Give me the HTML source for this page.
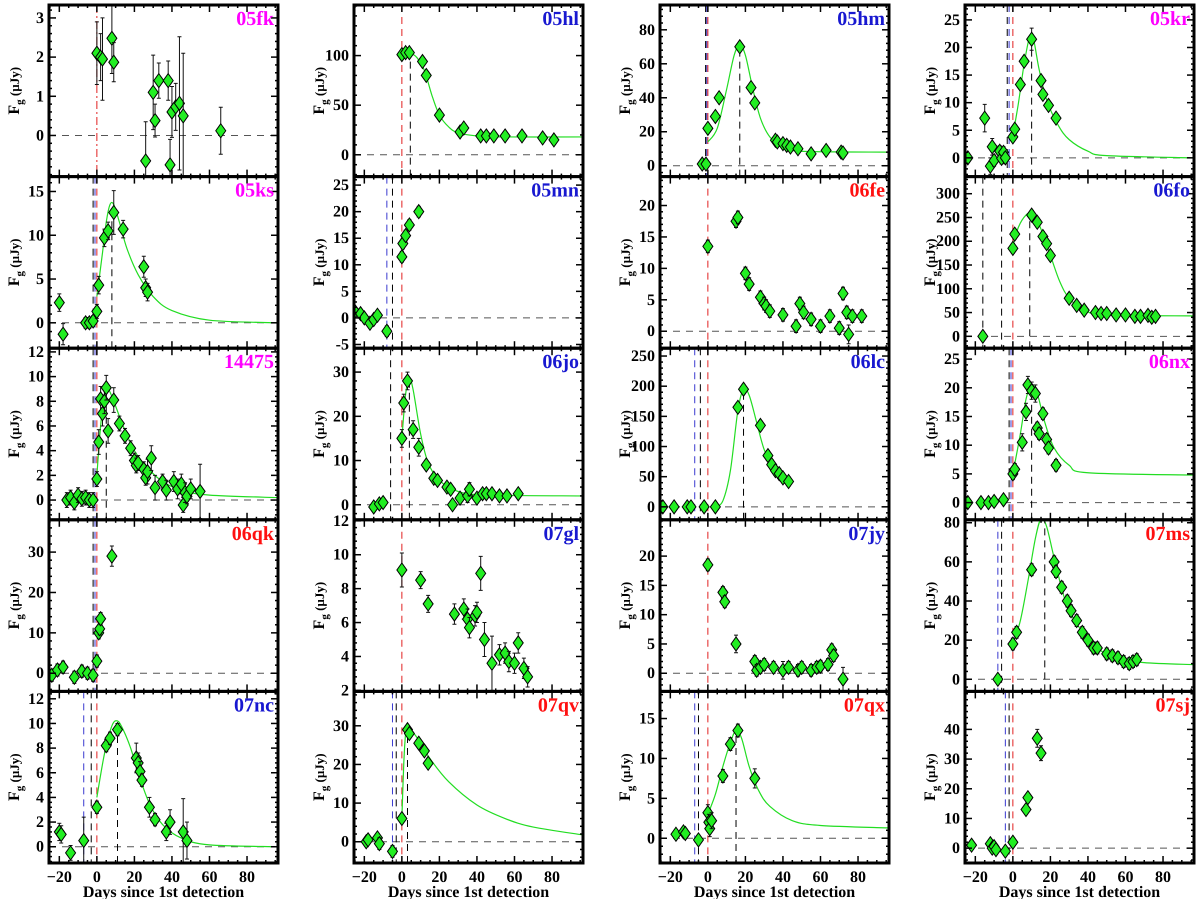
<!DOCTYPE html>
<html><head><meta charset="utf-8">
<style>
html,body{margin:0;padding:0;background:#fff;}
svg{display:block;font-family:"Liberation Serif",serif;font-weight:bold;text-rendering:geometricPrecision;}
</style></head>
<body>
<svg id="fig" width="1200" height="899" viewBox="0 0 1200 899" xmlns="http://www.w3.org/2000/svg"></svg>
<script>
// ---- data arrays (days since 1st detection, flux in microJy) ----
const xTicks=[-20,0,20,40,60,80];
const xTickLabels=["\u221220","0","20","40","60","80"];

const fk_days=[0,2,3,8,9,26,30,31,33,38,39,40,42,44,46,66];
const fk_flux=[2.1,2.0,1.95,2.48,1.87,-0.65,1.1,0.38,1.4,1.4,-0.75,0.6,0.73,0.82,0.5,0.12];
const fk_err=[0.8,0.6,1.05,0.9,0.5,1.0,0.95,0.42,0.45,0.5,0.65,0.65,0.6,1.7,1.6,0.6];

const hl_days=[0,2,4,11,13,20,31,33,42,45,49,55,64,75,81];
const hl_flux=[101,103,103,94,80,40,23,27,19,19,19,19,19,17,15];
const hl_err=[3,3,3,3,3,3,3,3,3,3,3,3,3,3,3];
const hl_cdays=[0,1,4,8,12,16,20,25,30,40,50,96];
const hl_cflux=[100,103,103,98,85,60,40,28,22,19,18,18];

const hm_days=[-3,-1,0,4,6,17,23,25,36,37,40,42,44,48,55,63,71,72];
const hm_flux=[1,1,22,29,40,70,46,37,15,14,13,12,11,10,7,9,8,7.5];
const hm_err=[2,2,2,2,2,2,2,2,2,2,2,2,2,2,2,2,2,2];
const hm_cdays=[0,5,10,14,17,20,24,28,33,40,50,96];
const hm_cflux=[14,22,45,65,71,65,45,28,17,11,8.5,8];

const kr_days=[-24,-15,-12,-11,-10,-7,-6,-5,-4,0,1,4,6,10,15,16,19,23];
const kr_flux=[0,7.2,-1.5,2,-0.5,1.2,-0.1,1,0,3.8,5.2,13.3,17.5,21.5,14,11.5,9.5,7.2];
const kr_err=[0.5,2.5,1.5,1.5,1,1,1,1,1,0.8,0.8,0.8,0.8,2,0.8,0.8,0.8,0.8];
const kr_cdays=[0,3,6,9,11,14,18,24,30,40,50,96];
const kr_cflux=[4,10,17,22,21.5,16,10.5,6,3.3,1.2,0.4,0];

const ks_days=[-20,-18,-6,-4,-2,0,1,4,6,9,14,25,26,27];
const ks_flux=[2.3,-1.3,0,0,0.2,1.3,4.3,9.7,10.5,12.6,10.7,6.4,4,3.5];
const ks_err=[1,1.2,0.6,0.6,0.6,0.8,1,1,1,2.5,1,1.2,1,1];
const ks_cdays=[0,3,5,7,9,12,16,22,30,40,60,96];
const ks_cflux=[3,8,11.5,13.5,13.5,11.5,8.5,5.5,3,1.4,0.3,0];

const mn_days=[-25,-22,-20,-17,-15,-13,-8,0,0.5,2,4,9];
const mn_flux=[1.2,0.8,0,-1,-0.3,0.5,-2.5,11.5,14,15.5,17.5,20];
const mn_err=[0.8,0.8,0.8,0.8,0.8,0.8,1,1,1,1,1,1];

const fe_days=[0,15,16,20,22,28,30,31,33,40,47,49,51,55,60,65,70,72,74,75,77,82];
const fe_flux=[13.5,17.5,18.1,9.2,7.5,5.4,4.4,4.0,3.2,2.6,0.8,4.4,3.0,1.9,0.8,2.4,0.5,6,3,-0.5,2.4,2.4];
const fe_err=[1,1,1,1,1,1,1,1,1,1,1,1,1,1,1,1,1,1,1,1.5,1,1];

const fo_days=[-16,0,1,10,13,16,18,20,30,34,38,44,47,50,55,60,65,68,72,74,76];
const fo_flux=[0,185,215,255,240,210,195,170,80,65,55,50,48,48,45,45,42,42,44,40,42];
const fo_err=[8,10,10,10,10,10,10,10,10,8,8,8,8,8,8,8,8,8,8,8,8];
const fo_cdays=[0,3,7,10,14,20,25,30,38,50,96];
const fo_cflux=[190,230,255,258,235,170,115,80,55,45,43];

const n14_days=[-16,-14,-12,-10,-8,-6,-4,-2,0,1,2,3,4,5,6,9,12,15,18,20,21,22,25,26,27,29,31,35,37,41,43,45,46,47,48,50,55];
const n14_flux=[0,0.2,-0.2,0.4,0.1,0.2,0,0,1.7,4.7,8.2,7.0,8,9.1,5.6,8.1,6.2,5.2,4.2,3.2,2.8,3.0,2.5,1.8,2.3,3.4,1.0,1.5,0.8,1.5,0.9,1.3,-0.4,0.6,0.3,0.9,0.7];
const n14_err=[0.6,0.6,0.6,0.6,0.6,0.6,0.6,0.6,0.6,1,1,1,1,1,1,1,0.6,0.6,0.6,0.6,0.6,0.6,0.6,0.6,1,1,1,0.6,0.8,0.8,0.8,0.8,0.6,0.8,0.6,0.8,2.2];
const n14_cdays=[0,2,4,6,9,14,20,27,35,45,60,96];
const n14_cflux=[2,6,8.5,9,8,6,4,2.6,1.5,0.8,0.4,0.2];

const jo_days=[-15,-12,-10,0,1,3,6,9,13,17,19,24,26,27,31,35,36,40,43,45,48,52,56,62];
const jo_flux=[-0.5,0.2,0.5,15,23,28,17,13,9,6,5.5,4,3.5,0,1.5,2,3.5,1.5,2.5,2.5,2.5,2,2,2.5];
const jo_err=[1,1,1,2,2,2,2,2,1,1,1,1,1,1,1,1.5,1.5,1,1,1,1,1,1,1];
const jo_cdays=[0,2,4,6,10,14,20,30,45,96];
const jo_cflux=[15,25,28.5,26,16,9.5,5.5,3,2.2,2];

const lc_days=[-24,-18,-11,-9,-2,4,16,19,28,32,34,36,38,40,43];
const lc_flux=[0,0,0,0,0,0,165,195,135,85,70,60,55,48,42];
const lc_err=[5,5,5,5,5,5,8,8,8,8,8,8,8,8,8];
const lc_cdays=[4,8,12,16,19,22,26,30,35,40,45];
const lc_cflux=[0,10,60,160,195,185,140,95,65,48,40];

const nx_days=[-24,-17,-13,-10,-5,0,1,5,7,8,10,12,13,14,16,18,19,23];
const nx_flux=[0,0,0,0.2,0.5,5,5.8,10.5,15.8,20.5,19.5,19,13,12,15.5,11,9.5,6.5];
const nx_err=[0.8,0.8,0.8,0.8,0.8,1,1,1.5,1.5,1.5,1.5,1.5,1,1,1,1,1,1];
const nx_cdays=[0,4,7,10,13,17,22,30,40,96];
const nx_cflux=[5,12,18,20.5,19,14,9.5,6.5,5.2,4.8];

const qk_days=[-24,-21,-18,-12,-8,-5,-2,0,1,1.5,2,8];
const qk_flux=[-0.5,0.8,1.5,-1,0.5,0,-0.5,3,10,11,13.5,29];
const qk_err=[1.5,1.5,1.5,1.5,1.5,1.5,1.5,1.5,1.5,1.5,1.5,2.5];

const gl_days=[0,10,14,28,33,35,36,39,40,42,44,48,52,55,57,60,62,65,67];
const gl_flux=[9.1,8.5,7.1,6.5,6.8,6.2,5.7,6.4,6.6,8.9,5,3.6,4.1,4.2,3.7,3.6,4.8,3.3,2.8];
const gl_err=[1,0.5,0.5,0.6,0.6,0.6,0.6,0.6,0.6,1,1,1.6,0.6,0.6,0.6,0.6,0.6,0.6,0.6];

const jy_days=[0,8,9,15,25,26,28,30,35,40,43,48,50,55,58,60,64,66,67,72];
const jy_flux=[18.5,13.8,12.2,5,2,0.5,1,1.5,1,0.5,1,0.5,1,0.5,1,1.2,1.5,4,3,-1];
const jy_err=[1,1,1,1.5,1,1,1,1,1,1.5,1,1,1,1,1,1,1,1,1,2];

const ms_days=[-8,0,2,10,22,23,26,29,31,34,37,40,43,45,50,53,56,59,62,64,66];
const ms_flux=[0,18,24,56,60,55,47,40,35,30,24,20,16,16,13,12,11,9,8,9,10];
const ms_err=[2,3,3,3,3,3,3,3,3,3,3,3,3,3,3,3,3,3,3,3,3];
const ms_cdays=[0,4,8,12,15,18,22,28,35,45,55,70,96];
const ms_cflux=[18,30,50,72,82,78,62,40,27,16,11,8.5,7.5];

const nc_days=[-20,-19,-14,-7,0,5,7,11,21,22,23,24,28,31,37,39,46,48];
const nc_flux=[1.2,1,-0.5,0.5,3.2,8.2,8.8,9.5,7.2,6.8,6.1,5.4,3.2,2.2,1.2,2,1.2,0.5];
const nc_err=[0.7,0.7,0.6,1.9,0.5,0.5,0.5,0.5,1.2,0.8,0.8,0.5,0.8,0.5,0.7,1,2.7,1.5];
const nc_cdays=[0,4,8,11,14,18,22,28,35,45,60,96];
const nc_cflux=[4,7.5,9.8,10.2,9.5,8,6,3.5,1.8,0.7,0.15,0];

const qv_days=[-19,-18,-13,-12,-5,0,3,4,9,12,14];
const qv_flux=[0,0.5,1,-0.5,-2.5,6,29,28,25.5,23.5,20.3];
const qv_err=[1,1,1,1.5,1.5,1,1,1,1,1,1];
const qv_cdays=[0,1,2,3,8,15,25,40,55,70,96];
const qv_cflux=[6,20,28,29.5,27,21.5,15.5,9.5,6,3.8,1.8];

const qx_days=[-17,-13,-12,-5,0,0.5,1,2,8,12,16,25];
const qx_flux=[0.5,0.8,0.6,-0.2,3.2,2,1.2,2.2,7.8,11.8,13.5,7.5];
const qx_err=[0.6,0.6,0.6,0.6,1,1,1,1,0.8,0.8,0.8,1.2];
const qx_cdays=[0,4,8,12,15,18,22,27,33,45,60,96];
const qx_cflux=[3,5.5,9,12,13.5,12.5,9,6,4,2.2,1.6,1.3];

const sj_days=[-22,-12,-11,-10,-9,-4,0,7,8,13,15];
const sj_flux=[1,1.5,0,0.5,-0.5,-1,2,13,17,37,32];
const sj_err=[1,1,1,1,1,1,1,1,1,3,2.5];

// ---- layout ----
const colLeft=[49,354,660,965], PW=229, TOP=5, PH=171.6;
const XMIN=-25.5, XMAX=96.5;
const MAG="#ff00ff", BLU="#1818d0", RED="#ff1010";

const panels=[
 {id:"05fk",color:MAG,col:0,row:0,y0:-1.05,y1:3.33,yt:[0,1,2,3],d:fk_days,f:fk_flux,e:fk_err,blue:[],black:[],peak:null,dashdot:true},
 {id:"05hl",color:BLU,col:1,row:0,y0:-22,y1:151,yt:[0,50,100],d:hl_days,f:hl_flux,e:hl_err,cd:hl_cdays,cf:hl_cflux,blue:[],black:[],peak:4.5},
 {id:"05hm",color:BLU,col:2,row:0,y0:-6.4,y1:94.6,yt:[0,20,40,60,80],d:hm_days,f:hm_flux,e:hm_err,cd:hm_cdays,cf:hm_cflux,blue:[-0.6],black:[-1.2],peak:17},
 {id:"05kr",color:MAG,col:3,row:0,y0:-3.4,y1:27.7,yt:[0,5,10,15,20,25],d:kr_days,f:kr_flux,e:kr_err,cd:kr_cdays,cf:kr_cflux,blue:[-2],black:[-3],peak:10},
 {id:"05ks",color:MAG,col:0,row:1,y0:-2.9,y1:16.7,yt:[0,5,10,15],d:ks_days,f:ks_flux,e:ks_err,cd:ks_cdays,cf:ks_cflux,blue:[-1],black:[-2],peak:8},
 {id:"05mn",color:BLU,col:1,row:1,y0:-5.7,y1:26.6,yt:[-5,0,5,10,15,20,25],d:mn_days,f:mn_flux,e:mn_err,blue:[-8],black:[-5],peak:null},
 {id:"06fe",color:RED,col:2,row:1,y0:-2.7,y1:24.6,yt:[0,5,10,15,20],d:fe_days,f:fe_flux,e:fe_err,blue:[],black:[],peak:null},
 {id:"06fo",color:BLU,col:3,row:1,y0:-25,y1:336,yt:[0,50,100,150,200,250,300],d:fo_days,f:fo_flux,e:fo_err,cd:fo_cdays,cf:fo_cflux,blue:[],black:[-16,-6],peak:9},
 {id:"14475",color:MAG,col:0,row:2,y0:-1.6,y1:12.3,yt:[0,2,4,6,8,10,12],d:n14_days,f:n14_flux,e:n14_err,cd:n14_cdays,cf:n14_cflux,blue:[-1],black:[-2],peak:5},
 {id:"06jo",color:BLU,col:1,row:2,y0:-3.4,y1:35.4,yt:[0,10,20,30],d:jo_days,f:jo_flux,e:jo_err,cd:jo_cdays,cf:jo_cflux,blue:[],black:[-6],peak:4},
 {id:"06lc",color:BLU,col:2,row:2,y0:-21.5,y1:263,yt:[0,50,100,150,200,250],d:lc_days,f:lc_flux,e:lc_err,cd:lc_cdays,cf:lc_cflux,blue:[-7],black:[-4],peak:19},
 {id:"06nx",color:MAG,col:3,row:2,y0:-3,y1:26.9,yt:[0,5,10,15,20,25],d:nx_days,f:nx_flux,e:nx_err,cd:nx_cdays,cf:nx_cflux,blue:[-1],black:[-2],peak:10},
 {id:"06qk",color:RED,col:0,row:3,y0:-4.5,y1:38,yt:[0,10,20,30],d:qk_days,f:qk_flux,e:qk_err,blue:[-1],black:[-2],peak:null},
 {id:"07gl",color:BLU,col:1,row:3,y0:1.94,y1:12.06,yt:[2,4,6,8,10,12],d:gl_days,f:gl_flux,e:gl_err,blue:[],black:[],peak:null,nozero:true},
 {id:"07jy",color:BLU,col:2,row:3,y0:-3.1,y1:26.2,yt:[0,5,10,15,20],d:jy_days,f:jy_flux,e:jy_err,blue:[],black:[],peak:null},
 {id:"07ms",color:RED,col:3,row:3,y0:-6.2,y1:81.5,yt:[0,20,40,60,80],d:ms_days,f:ms_flux,e:ms_err,cd:ms_cdays,cf:ms_cflux,blue:[-8],black:[-6],peak:17},
 {id:"07nc",color:BLU,col:0,row:4,y0:-1.32,y1:12.6,yt:[0,2,4,6,8,10,12],d:nc_days,f:nc_flux,e:nc_err,cd:nc_cdays,cf:nc_cflux,blue:[-7],black:[-3],peak:11},
 {id:"07qv",color:RED,col:1,row:4,y0:-5.5,y1:38.9,yt:[0,10,20,30],d:qv_days,f:qv_flux,e:qv_err,cd:qv_cdays,cf:qv_cflux,blue:[-5],black:[-3],peak:3},
 {id:"07qx",color:RED,col:2,row:4,y0:-3.1,y1:18.4,yt:[0,5,10,15],d:qx_days,f:qx_flux,e:qx_err,cd:qx_cdays,cf:qx_cflux,blue:[-7],black:[-5],peak:15},
 {id:"07sj",color:RED,col:3,row:4,y0:-5,y1:52.8,yt:[0,10,20,30,40],d:sj_days,f:sj_flux,e:sj_err,blue:[-4],black:[-2],peak:null}
];

const NS="http://www.w3.org/2000/svg";
const svg=document.getElementById("fig");
function mk(tag,attrs,parent){const el=document.createElementNS(NS,tag);for(const k in attrs)el.setAttribute(k,attrs[k]);(parent||svg).appendChild(el);return el;}

function catmull(pts){
  if(pts.length<2)return "";
  let d="M"+pts[0][0].toFixed(2)+","+pts[0][1].toFixed(2);
  for(let i=0;i<pts.length-1;i++){
    const p0=pts[i-1]||pts[i],p1=pts[i],p2=pts[i+1],p3=pts[i+2]||p2;
    const c1=[p1[0]+(p2[0]-p0[0])/6,p1[1]+(p2[1]-p0[1])/6];
    const c2=[p2[0]-(p3[0]-p1[0])/6,p2[1]-(p3[1]-p1[1])/6];
    d+=" C"+c1[0].toFixed(2)+","+c1[1].toFixed(2)+" "+c2[0].toFixed(2)+","+c2[1].toFixed(2)+" "+p2[0].toFixed(2)+","+p2[1].toFixed(2);
  }
  return d;
}

panels.forEach((p,idx)=>{
  const L=colLeft[p.col], T=TOP+PH*p.row, R=L+PW, B=T+PH;
  const sx=v=>L+(v-XMIN)/(XMAX-XMIN)*PW;
  const sy=v=>B-(v-p.y0)/(p.y1-p.y0)*PH;
  const g=mk("g",{});
  
  
  const clip=mk("clipPath",{id:"c"+idx},g);
  mk("rect",{x:L,y:T,width:PW,height:PH},clip);
  const inner=mk("g",{"clip-path":"url(#c"+idx+")"},g);

  if(!p.nozero){
    const z=mk("line",{x1:L,x2:R,y1:sy(0),y2:sy(0),stroke:"#555",
      "stroke-width":1,"stroke-dasharray":"7,6"},inner);
    
    
  }
  p.blue.forEach(v=>{const l=mk("line",{x1:sx(v),x2:sx(v),y1:T,y2:B,stroke:"#3a3ad0","stroke-width":1,"stroke-dasharray":"7,5"},inner);
    });
  p.black.forEach(v=>{const l=mk("line",{x1:sx(v),x2:sx(v),y1:T,y2:B,stroke:"#000","stroke-width":1,"stroke-dasharray":"7,5"},inner);
    });
  const rl=mk("line",{x1:sx(0),x2:sx(0),y1:T,y2:B,stroke:"#e02020","stroke-width":1,"stroke-dasharray":p.dashdot?"8,3,2,3":"7,5"},inner);
  
  

  if(p.cd){
    const pts=p.cd.map((d,i)=>[sx(d),sy(p.cf[i])]);
    const c=mk("path",{d:catmull(pts),fill:"none",stroke:"#22dd22","stroke-width":1.2},inner);
    
    
    if(p.peak!==null){
      let pk=Math.max(...p.cf);
      const pl=mk("line",{x1:sx(p.peak),x2:sx(p.peak),y1:B,y2:sy(pk),stroke:"#000","stroke-width":1,"stroke-dasharray":"7,5"},inner);
      
      
    }
  }
  p.d.forEach((d,i)=>{
    const x=sx(d),y=sy(p.f[i]),e=p.e[i];
    const eb=mk("line",{x1:x,x2:x,y1:sy(p.f[i]-e),y2:sy(p.f[i]+e),stroke:"#111","stroke-width":1},inner);
    
    
    [p.f[i]-e,p.f[i]+e].forEach(v=>{mk("line",{x1:x-2,x2:x+2,y1:sy(v),y2:sy(v),stroke:"#111","stroke-width":1},inner);});
    const m=mk("polygon",{points:`${x},${y-7} ${x+5},${y} ${x},${y+7} ${x-5},${y}`,fill:"#22ee22",stroke:"#000","stroke-width":1},inner);
    
    
  });

  const tk=mk("g",{stroke:"#000","stroke-width":1.5},g);
  for(let v=-25;v<=95;v+=5){
    const x=sx(v), len=(v%20===0)?7:3;
    mk("line",{x1:x,x2:x,y1:B,y2:B-len},tk);
    mk("line",{x1:x,x2:x,y1:T,y2:T+len},tk);
  }
  const ystep=p.yt[1]-p.yt[0];
  for(let v=p.yt[0]-ystep;v<=p.y1;v+=ystep/5){
    if(v<p.y0)continue;
    const y=sy(v), major=p.yt.some(t=>Math.abs(t-v)<ystep*1e-3);
    const len=major?7:3;
    mk("line",{x1:L,x2:L+len,y1:y,y2:y},tk);
    mk("line",{x1:R,x2:R-len,y1:y,y2:y},tk);
  }
  p.yt.forEach(v=>{
    const t=mk("text",{x:L-5,y:sy(v)+5,"text-anchor":"end","font-size":16,fill:"#000"},g);
    t.textContent=String(v);
    
    
  });
  const fr=mk("rect",{x:L,y:T,width:PW,height:PH,fill:"none",stroke:"#000","stroke-width":3},g);
  
  
  const tt=mk("text",{x:R-4,y:T+20,"text-anchor":"end","font-size":20,fill:p.color},g);
  tt.textContent=p.id;
  
  
  const cy=T+PH/2, cx=L-30;
  const yt=mk("text",{x:cx,y:cy,transform:`rotate(-90 ${cx} ${cy})`,"text-anchor":"middle","font-size":16,fill:"#000"},g);
  yt.innerHTML='F<tspan font-size="11" dy="4">g</tspan><tspan font-size="13" dy="-4"> (\u00b5Jy)</tspan>';
  
  
  if(p.row===4){
    xTicks.forEach((v,i)=>{
      const t=mk("text",{x:sx(v),y:B+19,"text-anchor":"middle","font-size":16,fill:"#000"},g);
      t.textContent=xTickLabels[i];
      
      
    });
    const xt=mk("text",{x:L+PW/2,y:B+34,"text-anchor":"middle","font-size":16,fill:"#000"},g);
    xt.textContent="Days since 1st detection";
    
    
  }
});
</script>
</body></html>
